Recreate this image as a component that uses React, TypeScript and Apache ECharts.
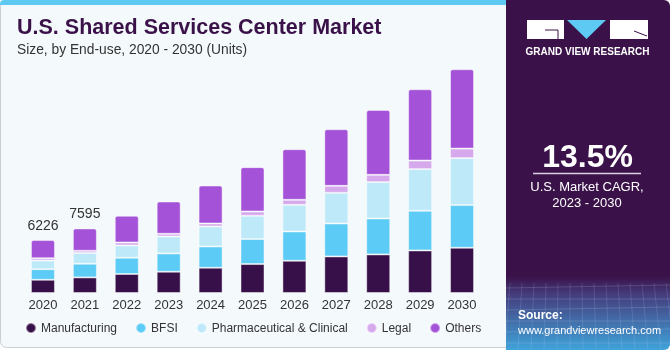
import React, { useEffect, useRef } from "react";
import * as echarts from "echarts";

const years = ["2020", "2021", "2022", "2023", "2024", "2025", "2026", "2027", "2028", "2029", "2030"];
const manufacturing = [1555, 1833, 2233, 2503, 2973, 3408, 3795, 4300, 4536, 5006, 5323];
const bfsi = [1250, 1610, 1915, 2150, 2503, 2938, 3443, 3878, 4230, 4665, 5017];
const pharma = [1005, 1257, 1445, 1998, 2350, 2738, 3137, 3607, 4277, 4900, 5523];
const legal = [280, 270, 353, 317, 353, 505, 588, 823, 858, 1010, 1128];
const others = [2136, 2625, 3137, 3795, 4465, 5217, 5957, 6662, 7638, 8390, 9330];
const shownTotals = ["6226", "7595"];

const seriesNames = ["Manufacturing", "BFSI", "Pharmaceutical & Clinical", "Legal", "Others"];
const seriesColors = ["#371049", "#5ccbf5", "#bde9f9", "#d6a8ec", "#a452d8"];

export default function App() {
  const ref = useRef<HTMLDivElement>(null);
  useEffect(() => {
    if (!ref.current) return;
    const chart = echarts.init(ref.current, undefined, { renderer: "svg" });
    const data = [manufacturing, bfsi, pharma, legal, others];
    const font = "'Liberation Sans', Arial, sans-serif";
    const series: any[] = data.map((d, i) => ({
      name: seriesNames[i],
      type: "bar",
      stack: "total",
      data: d,
      barWidth: 24,
      itemStyle: {
        color: seriesColors[i],
        borderColor: "rgba(255,255,255,0.45)",
        borderWidth: 1,
        borderRadius: i === 4 ? [2, 2, 0, 0] : 0,
      },
      label:
        i === 4
          ? {
              show: true,
              position: "top",
              distance: 8,
              fontSize: 14,
              fontFamily: font,
              color: "#333",
              formatter: (p: any) => (p.dataIndex < shownTotals.length ? shownTotals[p.dataIndex] : ""),
            }
          : { show: false },
    }));

    const gridLines: any[] = [];
    for (let k = 0; k < 6; k++) {
      gridLines.push({
        type: "line",
        shape: { x1: 506, y1: 288 + k * 11, x2: 670, y2: 285 + k * 11 + (k % 2) * 3 },
        style: { stroke: "rgba(200,220,255,0.18)", lineWidth: 1 },
        silent: true,
      });
    }
    for (let k = 0; k < 14; k++) {
      gridLines.push({
        type: "line",
        shape: { x1: 510 + k * 12, y1: 283, x2: 505 + k * 13, y2: 350 },
        style: { stroke: "rgba(200,220,255,0.15)", lineWidth: 1 },
        silent: true,
      });
    }

    chart.setOption({
      animation: false,
      textStyle: { fontFamily: font },
      graphic: [
        {
          type: "rect",
          z: -10,
          silent: true,
          shape: { x: 0.5, y: 0.5, width: 520, height: 347, r: 6 },
          style: { fill: "#f4f9fc", stroke: "#c9cfd4", lineWidth: 1 },
        },
        {
          type: "rect",
          z: -9,
          silent: true,
          shape: { x: 0, y: 0, width: 510, height: 5, r: [4, 0, 0, 0] },
          style: { fill: "#5ec9f3" },
        },
        {
          type: "text",
          left: 17,
          top: 16,
          style: {
            text: "U.S. Shared Services Center Market",
            fontSize: 21.5,
            fontWeight: "bold",
            fill: "#3a1249",
            fontFamily: font,
          },
        },
        {
          type: "text",
          left: 17,
          top: 42,
          style: {
            text: "Size, by End-use, 2020 - 2030 (Units)",
            fontSize: 13.8,
            fill: "#333",
            fontFamily: font,
          },
        },
        {
          type: "rect",
          z: -5,
          silent: true,
          shape: { x: 506, y: 0, width: 164, height: 350, r: [0, 6, 6, 0] },
          style: {
            fill: new echarts.graphic.LinearGradient(0, 0, 0, 1, [
              { offset: 0, color: "#3a1249" },
              { offset: 0.79, color: "#3a1249" },
              { offset: 0.84, color: "#453c7c" },
              { offset: 1, color: "#3fa3da" },
            ]),
          },
        },
        ...gridLines,
        {
          type: "rect",
          silent: true,
          shape: { x: 527, y: 20, width: 37, height: 19 },
          style: { fill: "#ffffff" },
        },
        {
          type: "polyline",
          silent: true,
          shape: { points: [[545, 30], [558, 30], [558, 39]] },
          style: { stroke: "#3a1249", lineWidth: 1, fill: null },
        },
        {
          type: "polygon",
          silent: true,
          shape: { points: [[567, 20], [606, 20], [586.5, 39]] },
          style: { fill: "#5ec9f3" },
        },
        {
          type: "rect",
          silent: true,
          shape: { x: 610, y: 20, width: 38, height: 19 },
          style: { fill: "#ffffff" },
        },
        {
          type: "line",
          silent: true,
          shape: { x1: 634, y1: 31, x2: 647, y2: 36 },
          style: { stroke: "#3a1249", lineWidth: 1 },
        },
        {
          type: "text",
          x: 587.5,
          y: 51,
          style: {
            text: "GRAND VIEW RESEARCH",
            fontSize: 10,
            fontWeight: "bold",
            fill: "#ffffff",
            align: "center",
            verticalAlign: "middle",
            fontFamily: font,
          },
        },
        {
          type: "text",
          x: 587.5,
          y: 156,
          style: {
            text: "13.5%",
            fontSize: 32,
            fontWeight: "bold",
            fill: "#ffffff",
            align: "center",
            verticalAlign: "middle",
            fontFamily: font,
          },
        },
        {
          type: "line",
          silent: true,
          shape: { x1: 533, y1: 173.5, x2: 641, y2: 173.5 },
          style: { stroke: "#d9d0e0", lineWidth: 1.5 },
        },
        {
          type: "text",
          x: 587,
          y: 186,
          style: {
            text: "U.S. Market CAGR,",
            fontSize: 13,
            fill: "#ffffff",
            align: "center",
            verticalAlign: "middle",
            fontFamily: font,
          },
        },
        {
          type: "text",
          x: 587,
          y: 202,
          style: {
            text: "2023 - 2030",
            fontSize: 13,
            fill: "#ffffff",
            align: "center",
            verticalAlign: "middle",
            fontFamily: font,
          },
        },
        {
          type: "text",
          x: 518,
          y: 315,
          style: {
            text: "Source:",
            fontSize: 12,
            fontWeight: "bold",
            fill: "#ffffff",
            verticalAlign: "middle",
            fontFamily: font,
          },
        },
        {
          type: "text",
          x: 518,
          y: 330,
          style: {
            text: "www.grandviewresearch.com",
            fontSize: 11,
            fill: "#ffffff",
            verticalAlign: "middle",
            fontFamily: font,
          },
        },
      ],
      legend: {
        data: seriesNames,
        left: 25,
        top: 322,
        padding: 0,
        icon: "circle",
        itemWidth: 10,
        itemHeight: 10,
        itemGap: 18,
        textStyle: { fontSize: 12, color: "#333", fontFamily: font },
      },
      grid: { left: 22, right: 187, top: 55, bottom: 57, containLabel: false },
      xAxis: {
        type: "category",
        data: years,
        axisLine: { show: false },
        axisTick: { show: false },
        axisLabel: { fontSize: 13, color: "#333", margin: 5, fontFamily: font },
      },
      yAxis: {
        type: "value",
        min: 0,
        max: 28000,
        show: false,
        splitLine: { show: false },
      },
      series,
    });
    return () => chart.dispose();
  }, []);
  return (
    <div
      ref={ref}
      style={{ position: "fixed", left: 0, top: 0, width: 670, height: 350 }}
    />
  );
}
